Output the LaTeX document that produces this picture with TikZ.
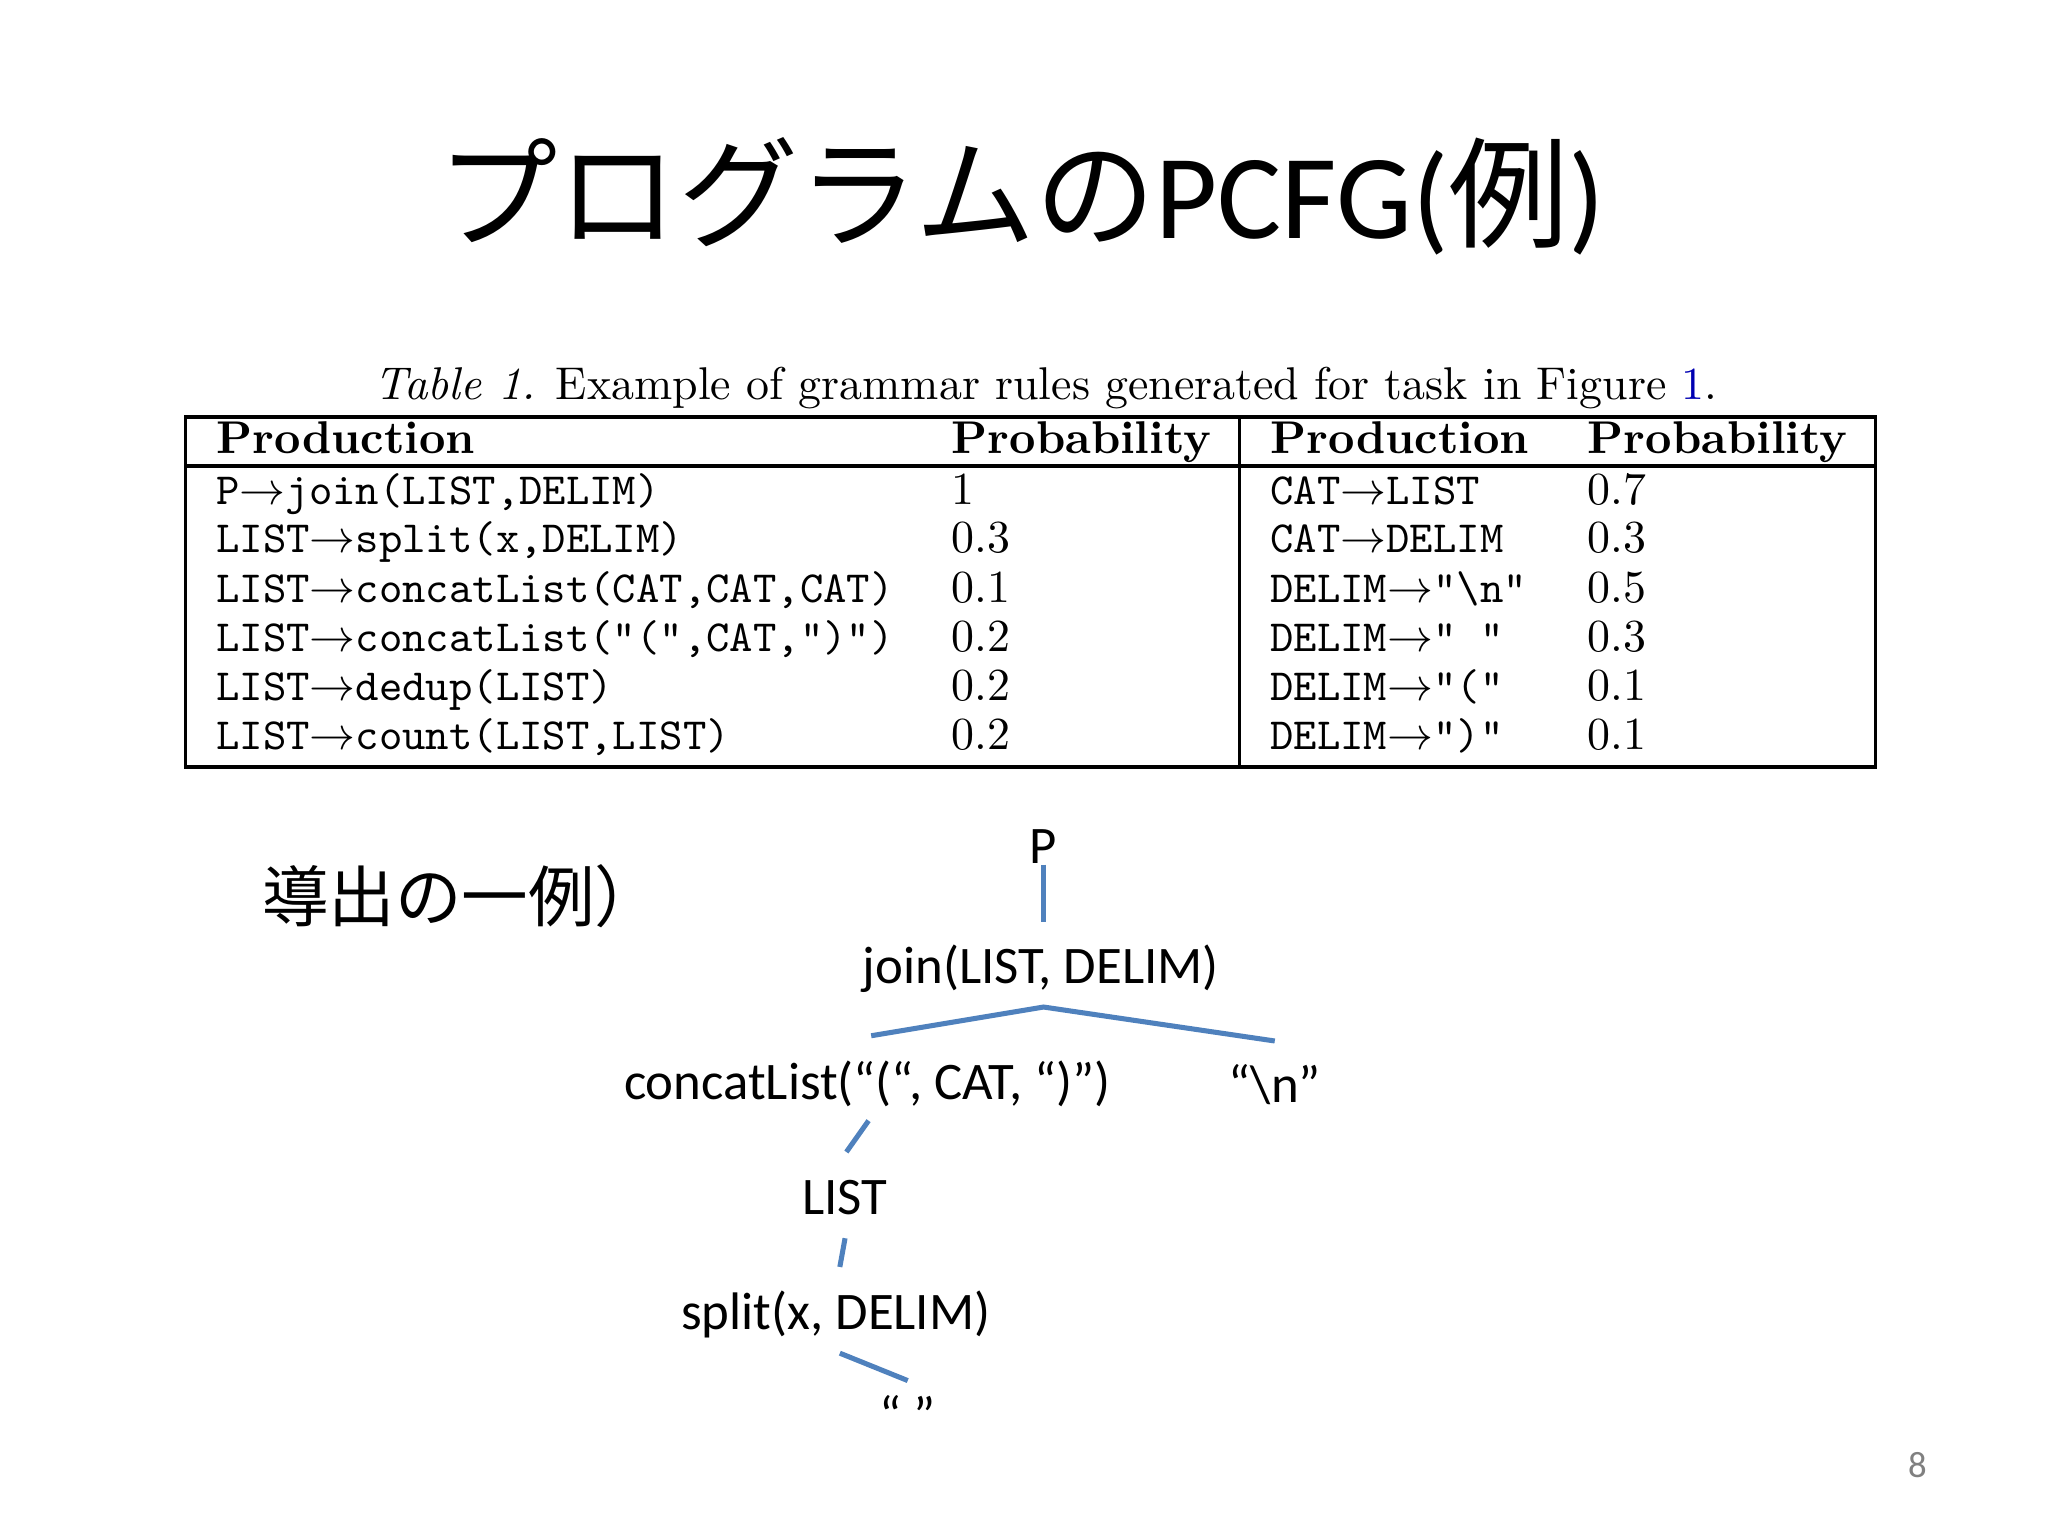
\documentclass[tikz,border=0pt]{standalone}
\usepackage{fontspec}
\setmainfont{Carlito}
\newfontfamily\cjk{Noto Sans CJK JP}
\newfontfamily\lmr{Latin Modern Roman}
\setmonofont{Latin Modern Mono}
\definecolor{lblue}{RGB}{79,129,189}
\begin{document}
\begin{tikzpicture}[x=0.1mm,y=-0.1mm,
  cellbase/.style={anchor=west,inner sep=0pt,text height=1.5ex,text depth=0.3ex},
  tcell/.style={cellbase,font=\fontsize{9.7pt}{12pt}\ttfamily},
  pcell/.style={cellbase,font=\fontsize{10pt}{12pt}\lmr},
  hcell/.style={cellbase,font=\fontsize{10pt}{12pt}\lmr\bfseries},
  tree/.style={inner sep=0pt,font=\fontsize{11.5pt}{13pt}\selectfont},
  branch/.style={draw=lblue,line width=1.1pt}]
\useasboundingbox (0,0) rectangle (1568,1176);
\node[font=\fontsize{26.2pt}{30pt}\selectfont] (title) at (782,150) {{\cjk プログラムの}PCFG({\cjk 例})};
\node[font=\fontsize{10pt}{12pt}\lmr] (cap) at (801,297) {\textit{Table 1.} Example of grammar rules generated for task in Figure \textcolor{blue!70!black}{1}.};
\draw[line width=0.8pt] (142,319) rectangle (1436,587);
\draw[line width=0.8pt] (142,357) -- (1436,357);
\draw[line width=0.8pt] (949,319) -- (949,587);
\node[hcell] (h1) at (165,337) {Production};
\node[hcell] (h2) at (728,337) {Probability};
\node[hcell] (h3) at (972,337) {Production};
\node[hcell] (h4) at (1215,337) {Probability};
\foreach \y/\a/\b/\c/\d in {
 376/{P$\rightarrow$join(LIST,DELIM)}/1/{CAT$\rightarrow$LIST}/0.7,
 413/{LIST$\rightarrow$split(x,DELIM)}/0.3/{CAT$\rightarrow$DELIM}/0.3,
 451/{LIST$\rightarrow$concatList(CAT,CAT,CAT)}/0.1/{DELIM$\rightarrow$"\textbackslash n"}/0.5,
 489/{LIST$\rightarrow$concatList("(",CAT,")")}/0.2/{DELIM$\rightarrow$"~"}/0.3,
 526/{LIST$\rightarrow$dedup(LIST)}/0.2/{DELIM$\rightarrow$"("}/0.1,
 564/{LIST$\rightarrow$count(LIST,LIST)}/0.2/{DELIM$\rightarrow$")"}/0.1}{
 \node[tcell] at (165,\y) {\a};
 \node[pcell] at (728,\y) {\b};
 \node[tcell] at (972,\y) {\c};
 \node[pcell] at (1215,\y) {\d};
}
\node[anchor=west,inner sep=0pt,font=\fontsize{14.5pt}{17pt}\cjk] (ex) at (200,686) {導出の一例）};
\node[tree] (P) at (799,648) {P};
\node[tree] (join) at (797,742) {join(LIST, DELIM)};
\node[tree] (cl) at (664,830) {concatList(“(“, CAT, “)”)};
\node[tree] (nl) at (976,830) {“\textbackslash n”};
\node[tree] (list) at (647,917) {LIST};
\node[tree] (split) at (640,1006) {split(x, DELIM)};
\node[tree] (sp) at (695,1083) {“ ”};
\coordinate (p1) at (799,662); \coordinate (p2) at (799,706);
\coordinate (j0) at (799,771); \coordinate (jl) at (667,793); \coordinate (jr) at (976,797);
\coordinate (c1) at (665,858); \coordinate (c2) at (648,882);
\coordinate (l1) at (647,948); \coordinate (l2) at (643,970);
\coordinate (s1) at (643,1036); \coordinate (s2) at (695,1057);
\draw[branch] (p1) -- (p2);
\draw[branch] (jl) -- (j0) -- (jr);
\draw[branch] (c1) -- (c2);
\draw[branch] (l1) -- (l2);
\draw[branch] (s1) -- (s2);
\node[font=\fontsize{8pt}{10pt}\selectfont,text=gray] (pg) at (1468,1122) {8};
\end{tikzpicture}
\end{document}
